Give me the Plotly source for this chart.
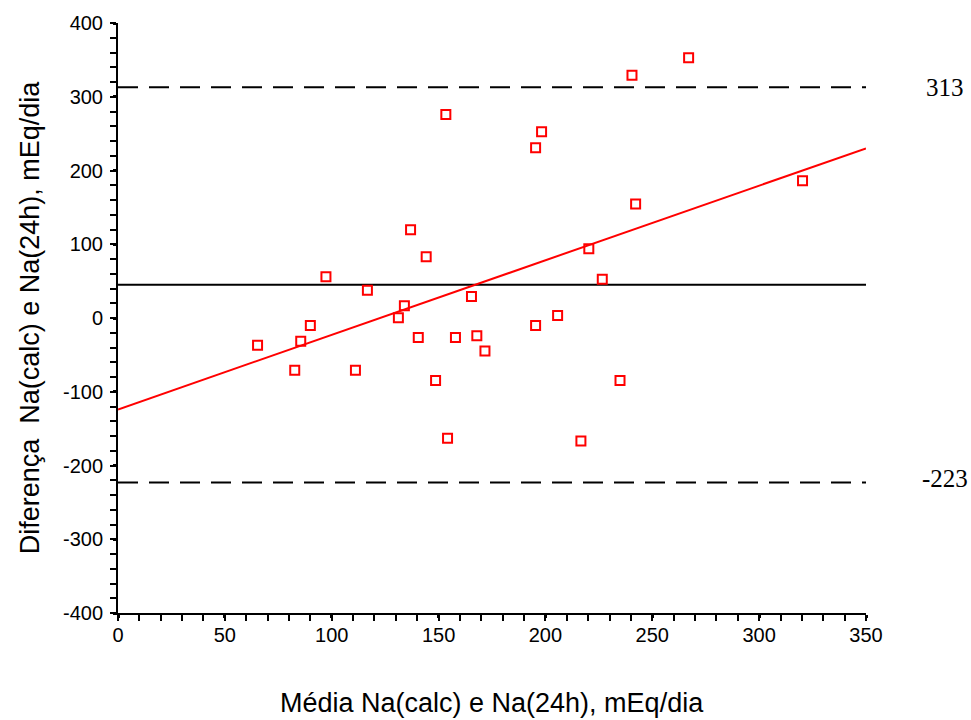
import plotly.graph_objects as go

# Data (Bland-Altman plot)
media = [65.3, 82.7, 85.5, 90.0, 97.3, 111.1, 116.7, 131.2, 134.0, 136.9,
         140.5, 144.2, 148.6, 153.4, 154.2, 157.9, 165.4, 167.9, 171.7, 195.4,
         198.2, 195.4, 205.7, 216.6, 220.3, 226.6, 234.9, 240.5, 242.2, 267.0,
         320.3]
diferenca = [-36.8, -71.0, -31.4, -10.1, 56.1, -71.0, 37.7, 0.3, 16.6, 119.6,
             -26.6, 83.0, -84.7, 275.9, -163.2, -26.6, 29.2, -23.9, -44.9, 230.8,
             252.4, -10.1, 3.4, -166.9, 93.9, 52.7, -84.7, 329.1, 154.7, 352.9,
             186.2]
mean_diff = 45
upper_loa = 313
lower_loa = -223
reg_x = [0, 350]
reg_y = [-124, 230]
x_range = [0, 350]
y_range = [-400, 400]
x_ticks = [0, 50, 100, 150, 200, 250, 300, 350]
y_ticks = [-400, -300, -200, -100, 0, 100, 200, 300, 400]
x_title = "Média Na(calc) e Na(24h), mEq/dia"
y_title = "Diferença  Na(calc) e Na(24h), mEq/dia"

SANS = "Arial, 'Liberation Sans', sans-serif"
SERIF = "'Times New Roman', 'Liberation Serif', serif"

fig = go.Figure()

fig.add_trace(go.Scatter(x=x_range, y=[upper_loa, upper_loa], mode="lines",
                         line=dict(color="black", width=2, dash="20px,11px"),
                         hoverinfo="skip", showlegend=False))
fig.add_trace(go.Scatter(x=x_range, y=[lower_loa, lower_loa], mode="lines",
                         line=dict(color="black", width=2, dash="20px,11px"),
                         hoverinfo="skip", showlegend=False))
fig.add_trace(go.Scatter(x=x_range, y=[mean_diff, mean_diff], mode="lines",
                         line=dict(color="black", width=2),
                         hoverinfo="skip", showlegend=False))
fig.add_trace(go.Scatter(x=reg_x, y=reg_y, mode="lines",
                         line=dict(color="#ff0000", width=2),
                         hoverinfo="skip", showlegend=False))
fig.add_trace(go.Scatter(x=media, y=diferenca, mode="markers",
                         marker=dict(symbol="square-open", size=9, color="#ff0000",
                                     line=dict(width=2, color="#ff0000")),
                         showlegend=False))

fig.add_annotation(x=1.106, xref="paper", y=upper_loa, yref="y", text=str(upper_loa),
                   showarrow=False, xanchor="center", yanchor="middle",
                   font=dict(family=SERIF, size=25, color="black"))
fig.add_annotation(x=1.106, xref="paper", y=lower_loa + 6, yref="y", text=str(lower_loa),
                   showarrow=False, xanchor="center", yanchor="middle",
                   font=dict(family=SERIF, size=25, color="black"))
fig.add_annotation(x=0.5, xref="paper", y=-0.1525, yref="paper", text=x_title,
                   showarrow=False, xanchor="center", yanchor="middle",
                   font=dict(family=SANS, size=27, color="black"))

fig.update_xaxes(range=x_range, tickvals=x_ticks, ticktext=[str(v) for v in x_ticks],
                 showgrid=False, zeroline=False, showline=True, linecolor="black",
                 linewidth=2, ticks="outside", ticklen=3, tickwidth=3, tickcolor="black",
                 minor=dict(dtick=10, ticks="outside", ticklen=6, tickwidth=1.5,
                            tickcolor="black", showgrid=False),
                 ticklabelstandoff=0, automargin=False,
                 tickfont=dict(family=SANS, size=20, color="black"))
fig.update_yaxes(range=y_range, tickvals=y_ticks, ticktext=[str(v) for v in y_ticks],
                 showgrid=False, zeroline=False, showline=True, linecolor="black",
                 linewidth=2, ticks="outside", ticklen=3, tickwidth=3, tickcolor="black",
                 minor=dict(dtick=20, ticks="outside", ticklen=6, tickwidth=1.5,
                            tickcolor="black", showgrid=False),
                 ticklabelstandoff=6,
                 tickfont=dict(family=SANS, size=20, color="black"),
                 title=dict(text=y_title,
                            font=dict(family=SANS, size=27, color="black"),
                            standoff=16))

fig.update_layout(width=971, height=720,
                  margin=dict(l=118, r=105, t=23, b=107, pad=0),
                  plot_bgcolor="white", paper_bgcolor="white")

fig.write_html("out.html", config={"displayModeBar": False},
               post_script="document.body.style.margin='0px';document.body.style.padding='0px';")
